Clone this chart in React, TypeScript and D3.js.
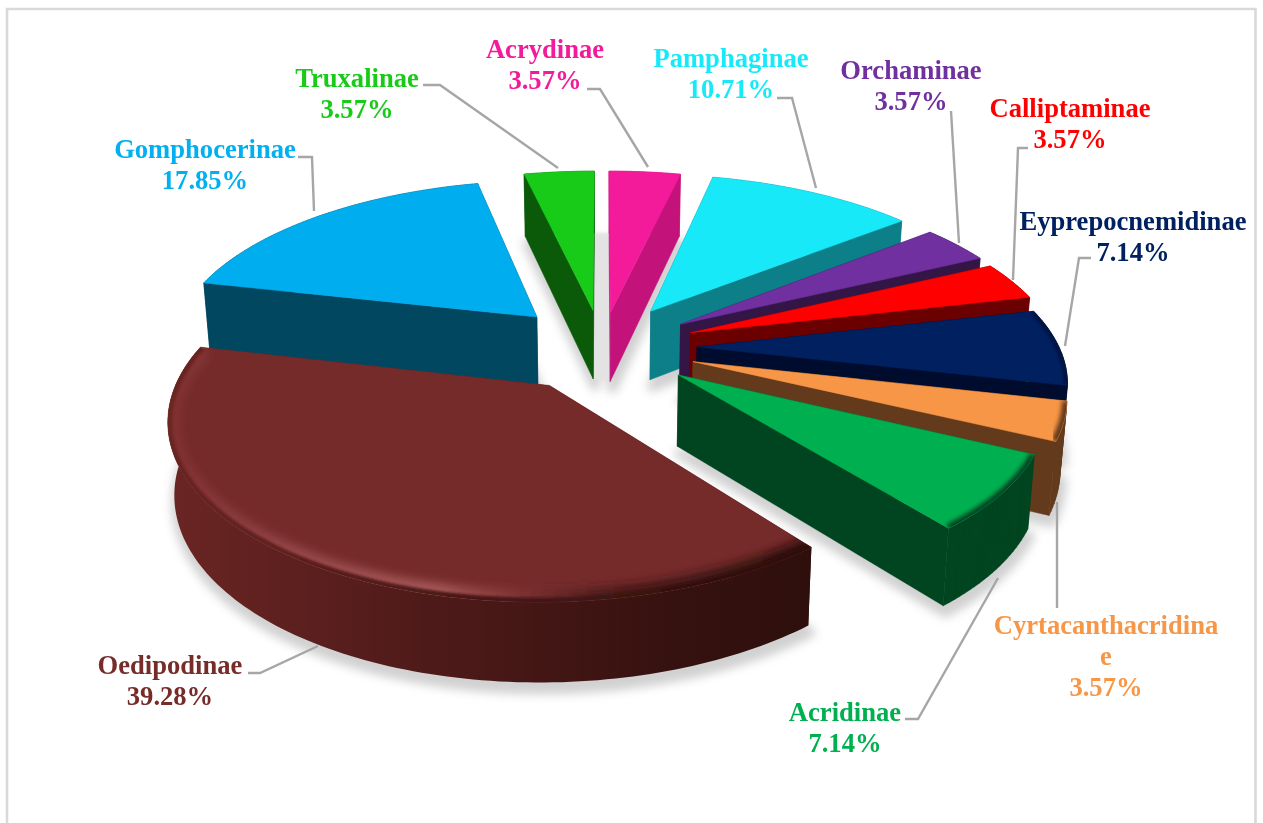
import React from "react";
import * as d3 from "d3";

const categories = ["Acrydinae","Pamphaginae","Orchaminae","Calliptaminae","Eyprepocnemidinae","Cyrtacanthacridinae","Acridinae","Oedipodinae","Gomphocerinae","Truxalinae"];
const percents = [3.57,10.71,3.57,3.57,7.14,3.57,7.14,39.28,17.85,3.57];
const topColors = ["#f41b9b","#17e9f9","#7030a0","#ff0000","#002060","#f79646","#00b050","#762b2b","#00adef","#19cb19"];
const wallColors = ["#c3137b","#0d7f88","#331646","#6b0000","#000c2e","#633a1c","#004520","#4d1a19","#00475f","#0a5a0a"];
const labelColors = ["#f41b9b","#17e9f9","#7030a0","#ff0000","#002060","#f79646","#00b050","#772c2a","#00b0f0","#19cb19"];
const labelLines = [["Acrydinae"],["Pamphaginae"],["Orchaminae"],["Calliptaminae"],["Eyprepocnemidinae"],["Cyrtacanthacridina","e"],["Acridinae"],["Oedipodinae"],["Gomphocerinae"],["Truxalinae"]];
const labelAnchors = [[545,58],[731,67],[911,79],[1070,117],[1133,230],[1106,634],[845,721],[170,674],[205,158],[357,87]];
const leaders = [
  [[587,89],[600,89],[648,167]],
  [[777,98],[792,98],[816,188]],
  [[951,111],[959,243]],
  [[1028,148],[1018,148],[1013,280]],
  [[1091,258],[1079,258],[1065,346]],
  [[1057,502],[1057,608]],
  [[905,719],[918,719],[998,578]],
  [[248,673],[260,673],[318,646]],
  [[298,157],[312,157],[314,211]],
  [[423,85],[440,85],[558,168]],
];
// explosion distance and radius of each slice as it appears in the picture
const explosions = [77,95,95,95,95,95,95,95,95,83];
const radii = [389,375,372,370,362,360,350,360,368,383];
// edges that show a soft bevel in the picture: stroke width per slice (0 = crisp edge)
const bevelWidths = [0,0,0,0,5,10,9,0,0,0];

const CX = 602, CY = 347, TILT = 0.46, D = 2140, DEPTH = 70, BOTTOM_SCALE = 0.985;

type P = [number, number];
const persp = (Z: number) => D / (D + Z);
const projTop = (X: number, Z: number): P => {
  const p = persp(Z);
  return [CX + X * p, CY - Z * TILT * p];
};
const projBottom = (X: number, Z: number): P => {
  const p = persp(Z);
  const [x, y] = projTop(X, Z);
  return [CX + (x - CX) * BOTTOM_SCALE, y + DEPTH * Math.pow(p, 0.6)];
};
const line = d3.line<P>().x(d => d[0]).y(d => d[1]);

const arcs = d3.pie<number>().sort(null).value(d => d)(percents);

const slices = arcs.map((a, i) => {
  const mid = (a.startAngle + a.endAngle) / 2;
  const ox = Math.sin(mid) * explosions[i];
  const oz = Math.cos(mid) * explosions[i];
  const R = radii[i];
  const steps = Math.max(6, Math.round((a.endAngle - a.startAngle) / 0.02));
  const arc3d = d3.range(steps + 1).map(k => {
    const t = a.startAngle + (a.endAngle - a.startAngle) * (k / steps);
    return [ox + R * Math.sin(t), oz + R * Math.cos(t)] as P;
  });
  const apex: P = [ox, oz];
  const top = (q: P) => projTop(q[0], q[1]);
  const bot = (q: P) => projBottom(q[0], q[1]);
  // every wall is a run of separate quads, so the fold at the silhouette stays filled
  const wall = (pts: P[]) => d3.pairs(pts).map(([u, v]) =>
    line([top(u), top(v), bot(v), bot(u)]) + "Z").join("");
  const meanZ = (pts: P[]) => d3.mean(pts, q => q[1]) as number;
  const walls = [
    { d: wall([apex, arc3d[0]]), z: meanZ([apex, arc3d[0]]) },
    { d: wall([apex, arc3d[steps]]), z: meanZ([apex, arc3d[steps]]) },
    { d: wall(arc3d), z: meanZ(arc3d) },
  ].sort((u, v) => v.z - u.z);
  return {
    i, oz, walls,
    topPoly: [top(apex), ...arc3d.map(top)],
    arcTop: arc3d.map(top),
    floor: [bot(apex), ...arc3d.map(bot)],
  };
});
const paintOrder = slices.slice().sort((u, v) => v.oz - u.oz);
const OED = categories.indexOf("Oedipodinae");
const ACRY = categories.indexOf("Acrydinae");
const TRUX = categories.indexOf("Truxalinae");
const gap: P[] = [
  slices[TRUX].floor[0],
  slices[TRUX].floor[slices[TRUX].floor.length - 1],
  slices[ACRY].floor[1],
  slices[ACRY].floor[0],
];

export default function App() {
  return (
    <svg width={1263} height={823} viewBox="0 0 1263 823"
      style={{ position: "absolute", left: 0, top: 0, background: "#fff" }}>
      <defs>
        <filter id="sh" x="-20%" y="-20%" width="140%" height="140%"><feGaussianBlur stdDeviation="5" /></filter>
        <filter id="b1" x="-20%" y="-20%" width="140%" height="140%"><feGaussianBlur stdDeviation="1.2" /></filter>
        <filter id="b2" x="-20%" y="-20%" width="140%" height="140%"><feGaussianBlur stdDeviation="2.2" /></filter>
        <filter id="b5" x="-20%" y="-20%" width="140%" height="140%"><feGaussianBlur stdDeviation="5" /></filter>
        <linearGradient id="oedWall" gradientUnits="userSpaceOnUse" x1="170" y1="0" x2="810" y2="0">
          <stop offset="0" stopColor="#6a2523" />
          <stop offset="0.42" stopColor="#4d1a19" />
          <stop offset="0.8" stopColor="#35110f" />
          <stop offset="1" stopColor="#2e0f0c" />
        </linearGradient>
        <linearGradient id="oedRim" gradientUnits="userSpaceOnUse" x1="170" y1="0" x2="810" y2="0">
          <stop offset="0" stopColor="#803030" />
          <stop offset="0.2" stopColor="#97484a" />
          <stop offset="0.42" stopColor="#a85a5a" />
          <stop offset="0.55" stopColor="#7e3232" />
          <stop offset="0.68" stopColor="#4a1a1a" />
          <stop offset="1" stopColor="#2e0f0c" />
        </linearGradient>
        {slices.map(s => (
          <clipPath key={s.i} id={`clip${s.i}`}><path d={line(s.topPoly) + "Z"} /></clipPath>
        ))}
      </defs>
      <path d="M7,823 V9 H1255.5 V823" fill="none" stroke="#d9d9d9" strokeWidth={2.6} />

      <g filter="url(#sh)" opacity={0.7}>
        {slices.map(s => (
          <path key={s.i} d={line(s.floor) + "Z"} transform="translate(2,7)"
            fill="#bdbdbd" stroke="#bdbdbd" strokeWidth={10} strokeLinejoin="round" />
        ))}
      </g>
      <path d={line(gap) + "Z"} fill="#e3e3e3" filter="url(#b1)" />

      {leaders.map((pts, i) => (
        <path key={i} d={line(pts as P[]) as string} fill="none" stroke="#a6a6a6" strokeWidth={2.4} />
      ))}

      {paintOrder.map(s => (
        <g key={s.i}>
          {s.walls.map((w, k) => (
            <path key={k} d={w.d} fill={s.i === OED ? "url(#oedWall)" : wallColors[s.i]}
              stroke={s.i === OED ? "none" : wallColors[s.i]} strokeWidth={0.5} />
          ))}
          <path d={line(s.topPoly) + "Z"} fill={topColors[s.i]} stroke={topColors[s.i]} strokeWidth={0.5} />
          <g clipPath={`url(#clip${s.i})`}>
            {s.i === OED ? (
              <>
                <path d={line(s.arcTop) as string} fill="none" stroke="url(#oedRim)" strokeWidth={24} filter="url(#b5)" />
                <path d={line(s.arcTop) as string} fill="none" stroke="url(#oedWall)" strokeWidth={9} filter="url(#b1)" />
              </>
            ) : bevelWidths[s.i] > 0 ? (
              <path d={line(s.arcTop) as string} fill="none" stroke={wallColors[s.i]}
                strokeWidth={bevelWidths[s.i]} filter="url(#b2)" />
            ) : null}
          </g>
        </g>
      ))}

      <g fontFamily="'Liberation Serif'" fontWeight="bold" fontSize={26.6} textAnchor="middle">
        {categories.map((c, i) => {
          const [x, y] = labelAnchors[i];
          const rows = [...labelLines[i], percents[i].toFixed(2) + "%"];
          return (
            <text key={c} fill={labelColors[i]}>
              {rows.map((r, k) => (
                <tspan key={k} x={x} y={y + k * 30.8}>{r}</tspan>
              ))}
            </text>
          );
        })}
      </g>
    </svg>
  );
}
